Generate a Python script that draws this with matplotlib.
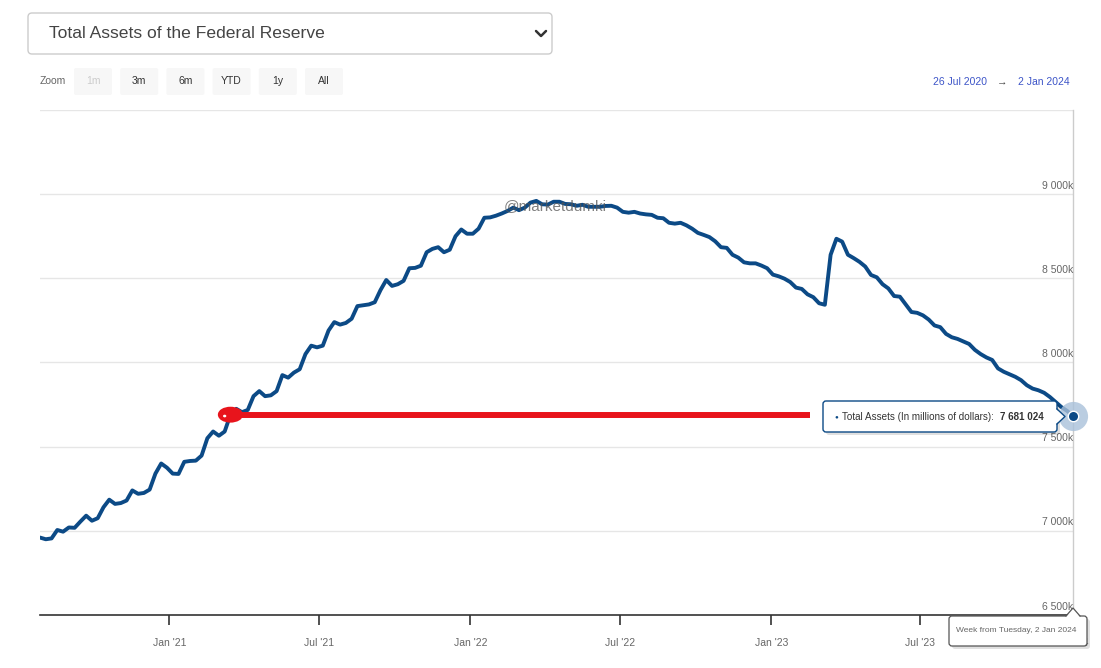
import matplotlib
matplotlib.use("Agg")
import matplotlib.pyplot as plt
import matplotlib.dates as mdates
import matplotlib.transforms as mtransforms
from matplotlib.patches import FancyBboxPatch, Polygon, Ellipse
from matplotlib.lines import Line2D
import pandas as pd

plt.rcParams["font.family"] = ["Liberation Sans", "DejaVu Sans"]

W, H = 1101, 668

# weekly total assets, thousands of millions of dollars
total_assets_k = [
    # Jul 2020 - Apr 2021
    6960, 6950, 6955, 7005, 6995, 7020, 7018, 7055, 7090, 7060,
    7075, 7140, 7185, 7160, 7165, 7180, 7240, 7220, 7225, 7245,
    7340, 7400, 7375, 7340, 7338, 7410, 7415, 7417, 7447, 7550,
    7590, 7565, 7590, 7690, 7725, 7705, 7718, 7800, 7830,
    # Apr 2021 - Jan 2022
    7800, 7805, 7830, 7925, 7910, 7940, 7960, 8050, 8100, 8090,
    8100, 8190, 8240, 8225, 8235, 8260, 8335, 8340, 8345, 8358,
    8430, 8490, 8455, 8465, 8485, 8560, 8562, 8575, 8655, 8675,
    8685, 8655, 8670, 8750, 8790, 8765, 8765, 8795,
    # Jan 2022 - Oct 2022
    8860, 8862, 8872, 8885, 8900, 8920, 8905, 8920, 8950, 8960,
    8940, 8938, 8955, 8955, 8942, 8940, 8931, 8937, 8925, 8925,
    8925, 8930, 8931, 8920, 8895, 8890, 8895, 8885, 8880, 8877,
    8860, 8857, 8830, 8825, 8830, 8815, 8795, 8770, 8758, 8745,
    8720,
    # Oct 2022 - Jun 2023
    8685, 8681, 8640, 8623, 8595, 8589, 8589, 8576, 8560, 8522,
    8512, 8498, 8478, 8445, 8437, 8405, 8388, 8352, 8343, 8640,
    8735, 8718, 8640, 8620, 8598, 8570, 8520, 8506, 8465, 8440,
    8395, 8391,
    # Jul 2023 - Jan 2024
    8345, 8300, 8295, 8280, 8255, 8220, 8210, 8170, 8150, 8140,
    8125, 8110, 8075, 8050, 8030, 8015, 7965, 7945, 7930, 7915,
    7895, 7865, 7845, 7835, 7820, 7795, 7765, 7735, 7712, 7681.024,
]
weeks = pd.date_range("2020-07-28", periods=len(total_assets_k), freq="7D")

y_ticks = [6500, 7000, 7500, 8000, 8500, 9000]
y_top = 9500
x_ticks = pd.to_datetime(["2021-01-01", "2021-07-01", "2022-01-01", "2022-07-01",
                          "2023-01-01", "2023-07-01", "2024-01-01"])
zoom_buttons = ["1m", "3m", "6m", "YTD", "1y", "All"]
range_from, range_to = "26 Jul 2020", "2 Jan 2024"
title = "Total Assets of the Federal Reserve"
series_name = "Total Assets (In millions of dollars)"
watermark = "@marketdumki"

# annotation drawn by hand on the screenshot
red_level = 7690
red_from, red_to = pd.Timestamp("2021-03-27"), pd.Timestamp("2023-02-17")
red_circle_at = pd.Timestamp("2021-03-16")

BLUE = "#0c4a86"
RED = "#e8141c"
GREY_TXT = "#666666"

fig = plt.figure(figsize=(W / 100, H / 100), dpi=100)
fig.patch.set_facecolor("white")
# pixel coords, origin at top-left
px = mtransforms.Affine2D().scale(1 / W, -1 / H).translate(0, 1) + fig.transFigure

L, R, T, B = 40, 1073, 110, 615
ax = fig.add_axes([L / W, 1 - B / H, (R - L) / W, (B - T) / H])
ax.plot(weeks, total_assets_k, color=BLUE, lw=2.8, solid_joinstyle="round",
        solid_capstyle="round", zorder=3)
ax.set_xlim(weeks[0], weeks[-1])
ax.set_ylim(y_ticks[0], y_top)

for v in y_ticks[1:] + [y_top]:
    ax.axhline(v, color="#e6e6e6", lw=1, zorder=1)
for v in y_ticks:
    ax.annotate(f"{v // 1000} {v % 1000:03d}k", xy=(1, v),
                xycoords=("axes fraction", "data"), xytext=(0, 2.5),
                textcoords="offset points", ha="right", va="bottom",
                fontsize=7.5, color=GREY_TXT, zorder=4)
ax.set_yticks([])

ax.set_xticks(x_ticks)
ax.xaxis.set_major_formatter(mdates.DateFormatter("%b '%y"))
ax.tick_params(axis="x", length=7.5, width=1.2, color="#333333", pad=9,
               labelsize=7.5, labelcolor=GREY_TXT)
for s in ["top", "left", "right"]:
    ax.spines[s].set_visible(False)
ax.spines["bottom"].set_color("#333333")
ax.spines["bottom"].set_linewidth(1.2)
ax.set_facecolor("white")

# crosshair at hovered point
ax.axvline(weeks[-1], color="#cccccc", lw=1, zorder=2, clip_on=False)

# red hand-drawn annotation
ax.plot([red_from, red_to], [red_level, red_level], color=RED, lw=4.3,
        solid_capstyle="butt", zorder=5)
ax.add_patch(Ellipse((mdates.date2num(red_circle_at), red_level),
                     width=28, height=82, facecolor=RED, edgecolor=RED,
                     lw=1.5, zorder=5))
ax.add_patch(Ellipse((mdates.date2num(red_circle_at) - 7, red_level - 8),
                     width=4, height=16, facecolor="white", edgecolor="none",
                     zorder=6))

# hovered point marker
ax.plot([weeks[-1]], [total_assets_k[-1]], marker="o", ms=21,
        markerfacecolor="#a9c1da", markeredgecolor="none", alpha=0.8,
        zorder=6, clip_on=False)
ax.plot([weeks[-1]], [total_assets_k[-1]], marker="o", ms=7.5,
        markerfacecolor=BLUE, markeredgecolor="white", markeredgewidth=1,
        zorder=7, clip_on=False)

# dropdown title box
fig.add_artist(FancyBboxPatch((28, 13), 524, 41, boxstyle="round,pad=0,rounding_size=4",
                              transform=px, facecolor="white", edgecolor="#cccccc", lw=1))
fig.text(49, 33, title, transform=px, fontsize=12.6, color="#444444", va="center")
fig.add_artist(Line2D([536, 541, 546], [31, 36, 31], transform=px, color="#333333",
                      lw=1.8, solid_capstyle="round"))

# zoom buttons
fig.text(40, 81.5, "Zoom", transform=px, fontsize=7.5, color=GREY_TXT, va="center")
for i, lab in enumerate(zoom_buttons):
    x0 = 74 + i * 46.2
    fig.add_artist(FancyBboxPatch((x0, 68), 38, 27, boxstyle="round,pad=0,rounding_size=2",
                                  transform=px, facecolor="#f7f7f7", edgecolor="none"))
    fig.text(x0 + 19, 81.5, lab, transform=px, fontsize=7.5, ha="center", va="center",
             color="#cccccc" if i == 0 else "#333333")

# range display
fig.text(960, 82, range_from, transform=px, fontsize=7.5, color="#3d55c8",
         ha="center", va="center")
fig.text(1002, 82, "\u2192", transform=px, fontsize=7.5, color="#444444",
         ha="center", va="center")
fig.text(1044, 82, range_to, transform=px, fontsize=7.5, color="#3d55c8",
         ha="center", va="center")

# watermark
fig.text(555, 206, watermark, transform=px, fontsize=11, color="#555555", alpha=0.75,
         ha="center", va="center")

# main tooltip
fig.add_artist(FancyBboxPatch((826, 404), 234, 31, boxstyle="round,pad=0,rounding_size=3",
                              transform=px, facecolor="#000000", alpha=0.12, edgecolor="none"))
fig.add_artist(FancyBboxPatch((823, 401), 234, 31, boxstyle="round,pad=0,rounding_size=3",
                              transform=px, facecolor="white", edgecolor=BLUE, lw=1))
fig.add_artist(Polygon([(1056, 409), (1065, 416.5), (1056, 424)], closed=True,
                       transform=px, facecolor="white", edgecolor="none"))
fig.add_artist(Line2D([1057, 1065, 1057], [409, 416.5, 424], transform=px,
                      color=BLUE, lw=1))
fig.text(834, 417, "\u25cf", transform=px, fontsize=4.5, color=BLUE, va="center")
fig.text(842, 417, f"{series_name}:", transform=px, fontsize=7.1, color="#333333",
         va="center")
fig.text(1000, 417, "7 681 024", transform=px, fontsize=7.1, color="#333333",
         va="center", weight="bold")

# date tooltip
fig.add_artist(FancyBboxPatch((952, 619), 138, 30, boxstyle="round,pad=0,rounding_size=3",
                              transform=px, facecolor="#000000", alpha=0.12, edgecolor="none"))
fig.add_artist(FancyBboxPatch((949, 616), 138, 30, boxstyle="round,pad=0,rounding_size=3",
                              transform=px, facecolor="white", edgecolor="#555555", lw=0.9))
fig.add_artist(Polygon([(1066, 617), (1073, 608), (1080, 617)], closed=True,
                       transform=px, facecolor="white", edgecolor="none"))
fig.add_artist(Line2D([1066, 1073, 1080], [616, 608, 616], transform=px,
                      color="#555555", lw=0.9))
fig.text(1016, 631, f"Week from Tuesday, {range_to}", transform=px, fontsize=6,
         color=GREY_TXT, ha="center", va="center")

fig.savefig("out.png", dpi=100)
